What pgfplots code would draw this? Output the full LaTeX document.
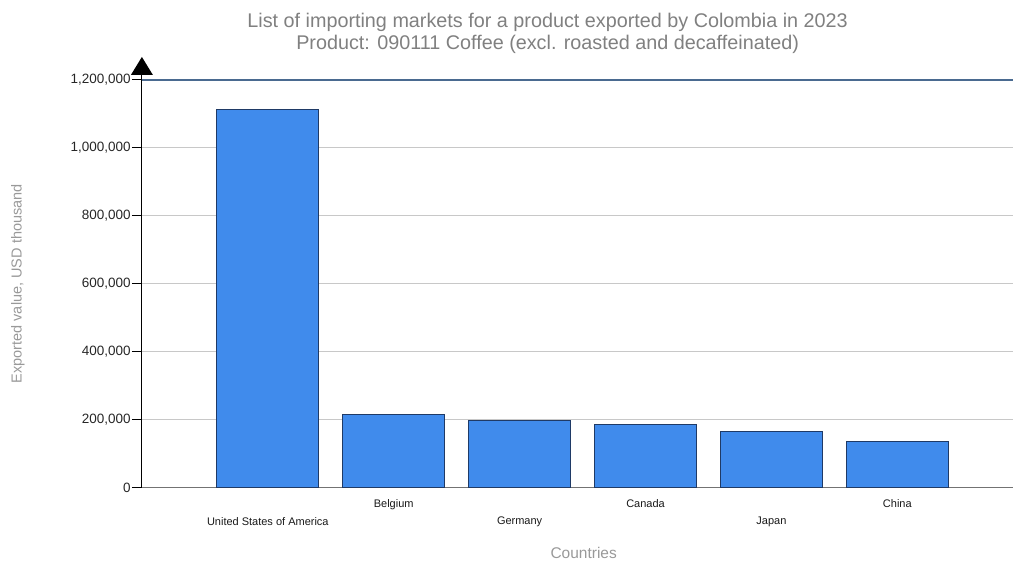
\documentclass[border=0pt]{standalone}
\usepackage{pgfplots}
\pgfplotsset{compat=1.18}
\usepackage{fontspec}
\setmainfont{Liberation Sans}
\definecolor{barfill}{HTML}{408BEC}
\definecolor{barline}{HTML}{1F3A66}
\definecolor{titlegray}{HTML}{808080}
\definecolor{labgray}{HTML}{999999}
\definecolor{gridgray}{HTML}{C8C8C8}
\definecolor{topblue}{HTML}{4A6A90}
\begin{document}
\begin{tikzpicture}
\begin{axis}[
  scale only axis,
  width=872pt, height=408pt,
  xmin=0, xmax=6.9206,
  ymin=0, ymax=1200000,
  clip=false,
  axis x line*=bottom,
  axis y line*=left,
  x axis line style={-, draw=gray!90!black, line width=1.5pt},
  y axis line style={-, draw=black, line width=1.2pt},
  ytick={0,200000,400000,600000,800000,1000000,1200000},
  scaled y ticks=false,
  ymajorgrids,
  grid style={draw=gridgray, line width=0.9pt},
  tick align=outside,
  major tick length=10pt,
  ytick style={draw=black, line width=0.9pt},
  xtick style={draw=none},
  yticklabel style={font=\fontsize{13.5}{15}\selectfont, text=black!85, inner sep=1pt,
    /pgf/number format/.cd, fixed, 1000 sep={,}, assume math mode=true},
  xtick={2,4,6},
  xticklabels={Belgium, Canada, China},
  extra x ticks={1,3,5},
  extra x tick labels={United States of America, Germany, Japan},
  extra x tick style={xticklabel style={yshift=-28pt}, grid=none, major tick length=0pt},
  xticklabel style={font=\fontsize{11}{13}\selectfont, text=black!90, yshift=2pt},
  xlabel={Countries},
  xlabel style={at={(axis description cs:0.507,0)}, anchor=center, yshift=-65pt,
    font=\fontsize{15.5}{18}\selectfont, text=labgray},
  ylabel={Exported value, USD thousand},
  ylabel style={at={(axis description cs:-0.1422,0.5)}, anchor=center,
    font=\fontsize{14.5}{17}\selectfont, text=labgray},
  title={List of importing markets for a product exported by Colombia in 2023\\Product: 090111 Coffee (excl. roasted and decaffeinated)},
  title style={at={(axis description cs:0.4656,1)}, anchor=center, yshift=41pt,
    align=center, font=\fontsize{19.8}{22}\selectfont, text=titlegray},
]
\addplot[ybar, bar width=0.81, fill=barfill, draw=barline, line width=1pt]
  coordinates {(1,1112000) (2,214700) (3,197000) (4,185300) (5,164700) (6,136200)};
\draw[draw=topblue, line width=1.2pt] (rel axis cs:0,1) -- (rel axis cs:1,1);
\draw[draw=black, line width=1.2pt] (rel axis cs:0,1) -- ++(0,6pt);
\fill[black] (rel axis cs:0,1) ++(-11pt,5pt) -- ++(22pt,0) -- ++(-11pt,18pt) -- cycle;
\path (rel axis cs:0,0) ++(-142pt,-73pt) rectangle ++(1014pt,561pt);
\end{axis}
\end{tikzpicture}
\end{document}
